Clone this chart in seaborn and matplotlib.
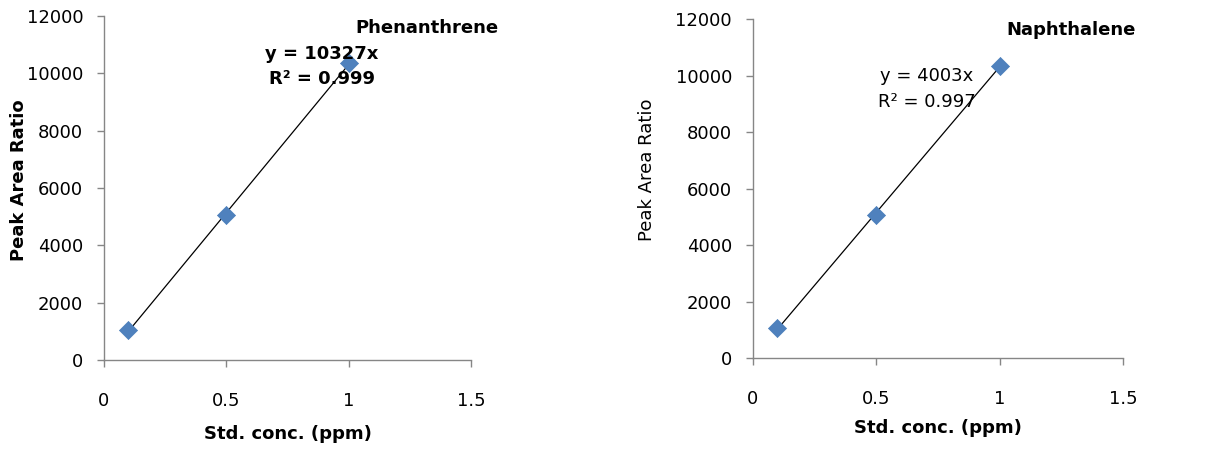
import numpy as np
import pandas as pd
import matplotlib
matplotlib.use('Agg')
import matplotlib.pyplot as plt
import seaborn as sns

sns.set_style('ticks')
plt.rcParams['font.family'] = ['DejaVu Sans']
plt.rcParams['text.color'] = 'black'
plt.rcParams['axes.labelcolor'] = 'black'
plt.rcParams['xtick.labelcolor'] = 'black'
plt.rcParams['ytick.labelcolor'] = 'black'

# calibration data
conc = [0.1, 0.5, 1.0]
phen_ratio = [1050, 5060, 10350]
naph_ratio = [1080, 5070, 10355]

compounds = ['Phenanthrene', 'Naphthalene']
equations = ['y = 10327x\nR² = 0.999', 'y = 4003x\nR² = 0.997']
x_ticks = [0, 0.5, 1, 1.5]
y_ticks = [0, 2000, 4000, 6000, 8000, 10000, 12000]

df = pd.DataFrame({
    'conc': conc * 2,
    'ratio': phen_ratio + naph_ratio,
    'compound': [compounds[0]] * 3 + [compounds[1]] * 3,
})

fig = plt.figure(figsize=(12.26, 4.49), dpi=100)
ax1 = fig.add_axes([0.0848, 0.198, 0.2994, 0.766])
ax2 = fig.add_axes([0.614, 0.202, 0.302, 0.755])

# per-panel settings: (axes, eq x, eq y, eq weight, title x, title y, ylabel weight, ylabel x, ylabel y, xlabel y)
panels = [
    (ax1, 0.89, 10240, 'bold', 1.074, 0.966, 'bold', -0.207, 0.523, -0.189),
    (ax2, 0.705, 9530, 'normal', 1.035, 0.968, 'normal', -0.262, 0.555, -0.179),
]

for (ax, ex, ey, ew, tx, ty, yw, ylx, yly, xly), name, eq in zip(panels, compounds, equations):
    sub = df[df['compound'] == name]
    sns.regplot(data=sub, x='conc', y='ratio', ax=ax, ci=None, truncate=True,
                marker='D',
                scatter_kws=dict(s=85, color='#4F81BD', edgecolor='#4A7EBB',
                                 linewidths=0.5, zorder=3, alpha=1),
                line_kws=dict(color='black', lw=0.9, zorder=2))
    ax.set_xlim(0, 1.5)
    ax.set_ylim(0, 12000)
    ax.set_xticks(x_ticks)
    ax.set_xticklabels(['0', '0.5', '1', '1.5'])
    ax.set_yticks(y_ticks)
    ax.set_yticklabels([str(v) for v in y_ticks])
    for side in ['top', 'right']:
        ax.spines[side].set_visible(False)
    for side in ['left', 'bottom']:
        ax.spines[side].set_color('#868686')
        ax.spines[side].set_linewidth(1)
    ax.tick_params(axis='x', direction='out', length=5, width=1, color='#868686',
                   pad=18, labelsize=13)
    ax.tick_params(axis='y', direction='out', length=5, width=1, color='#868686',
                   pad=10, labelsize=13)
    ax.set_xlabel('Std. conc. (ppm)', fontsize=13, fontweight='bold')
    ax.set_ylabel('Peak Area Ratio', fontsize=13, fontweight=yw)
    ax.xaxis.set_label_coords(0.5, xly)
    ax.yaxis.set_label_coords(ylx, yly)
    ax.text(ex, ey, eq, ha='center', va='center', fontsize=13, fontweight=ew,
            linespacing=1.55)
    ax.text(tx, ty, name, transform=ax.transAxes, ha='right', va='center',
            fontsize=13, fontweight='bold')

fig.savefig('out.png', dpi=100)
